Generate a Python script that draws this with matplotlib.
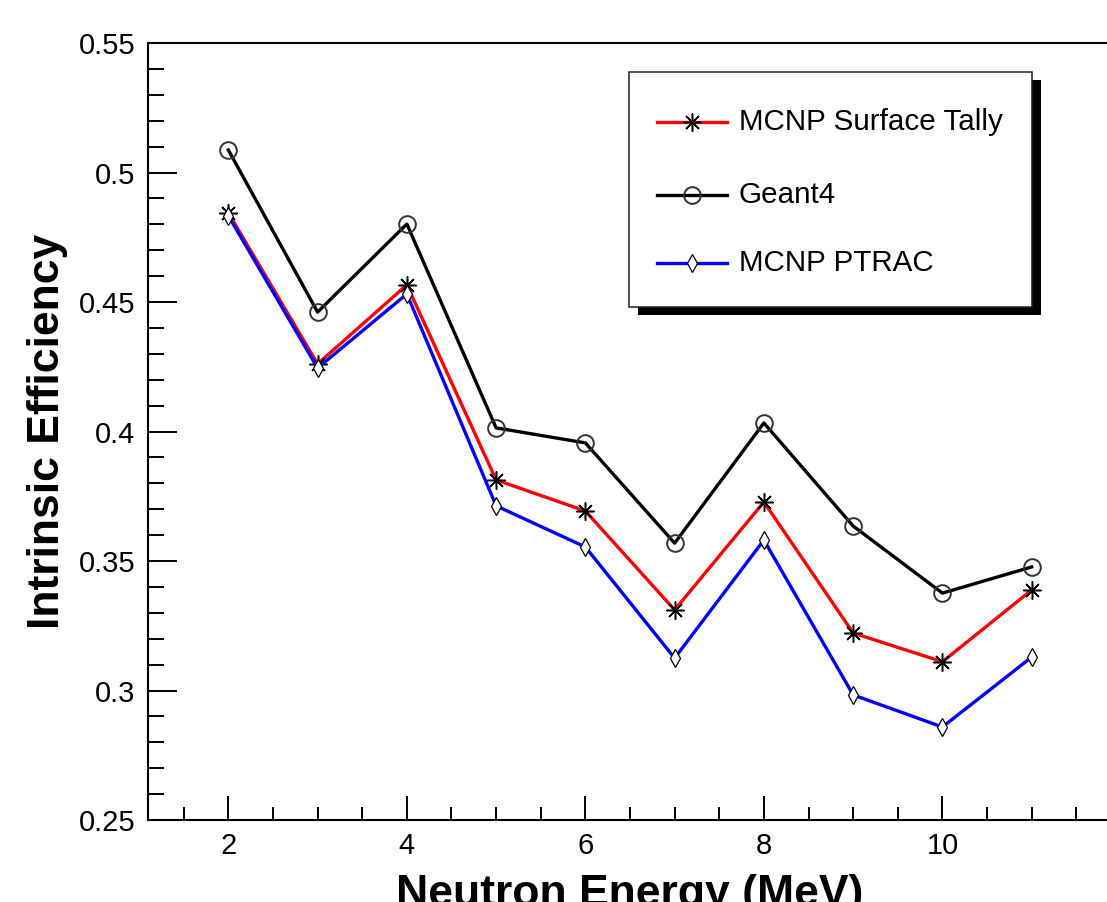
import matplotlib
matplotlib.use("Agg")
import matplotlib.pyplot as plt
from matplotlib.lines import Line2D
from matplotlib.patches import Rectangle
from matplotlib.ticker import MultipleLocator

plt.rcParams['font.family'] = ['Liberation Sans', 'DejaVu Sans']

energy = [2, 3, 4, 5, 6, 7, 8, 9, 10, 11]
mcnp_surface = [0.4844, 0.4261, 0.4566, 0.3813, 0.3693, 0.3311, 0.3728, 0.3222, 0.3111, 0.3388]
geant4 = [0.5087, 0.4461, 0.4801, 0.4014, 0.3956, 0.3569, 0.4033, 0.3635, 0.3376, 0.3477]
mcnp_ptrac = [0.4833, 0.4245, 0.4531, 0.3713, 0.3554, 0.3125, 0.3581, 0.2983, 0.2859, 0.3129]
series_labels = ["MCNP Surface Tally", "Geant4", "MCNP PTRAC"]
x_label = "Neutron Energy (MeV)"
y_label = "Intrinsic Efficiency"

W, H = 1107, 902
fig = plt.figure(figsize=(W / 100, H / 100), dpi=100)

def fx(px):
    return px / W

def fy(py):
    return 1 - py / H

ax_left, ax_right, ax_top, ax_bot = 148, 1112, 43, 820
ax = fig.add_axes([fx(ax_left), fy(ax_bot), fx(ax_right - ax_left), (ax_bot - ax_top) / H])

asterisk = (8, 2, 0)
styles = [
    dict(color='#ff0000', marker=asterisk, ms=13, mec='black', mfc='black', mew=1.1),
    dict(color='black', marker='o', ms=12, mec='#333333', mfc='none', mew=1.4),
    dict(color='#0000ff', marker='d', ms=9, mec='black', mfc='white', mew=0.9),
]
data = [mcnp_surface, geant4, mcnp_ptrac]
for i, (vals, st) in enumerate(zip(data, styles)):
    ax.plot(energy, vals, lw=2.4, zorder=3 + i, clip_on=False, **st)

ax.set_xlim(1.1, 11.9)
ax.set_ylim(0.25, 0.55)
ax.xaxis.set_minor_locator(MultipleLocator(0.5))
ax.yaxis.set_minor_locator(MultipleLocator(0.01))
ax.set_yticks([0.25, 0.3, 0.35, 0.4, 0.45, 0.5, 0.55])
ax.set_yticklabels(["0.25", "0.3", "0.35", "0.4", "0.45", "0.5", "0.55"])
ax.set_xticks([2, 4, 6, 8, 10])
ax.set_xticklabels(["2", "4", "6", "8", "10"])

ax.tick_params(axis='both', which='both', direction='in', width=1.4, labelsize=21, colors='black')
ax.tick_params(axis='y', which='major', length=21, pad=9)
ax.tick_params(axis='y', which='minor', length=11.5)
ax.tick_params(axis='x', which='major', length=17, pad=9)
ax.tick_params(axis='x', which='minor', length=9.5)
for side in ['left', 'bottom', 'top']:
    ax.spines[side].set_linewidth(1.5)
ax.spines['right'].set_visible(False)

fig.text(fx(48), fy(431), y_label, rotation=90, ha='center', va='center',
         fontsize=32, fontweight='bold')
fig.text(fx(630), fy(906), x_label, ha='center', va='baseline',
         fontsize=32, fontweight='bold')

# legend box with shadow
bx0, by0, bx1, by1 = 629, 72, 1032, 307
shadow = Rectangle((fx(bx0 + 9), fy(by1 + 8)), fx(bx1 - bx0), (by1 - by0) / H,
                   transform=fig.transFigure, facecolor='black', edgecolor='black', lw=0, zorder=10)
box = Rectangle((fx(bx0), fy(by1)), fx(bx1 - bx0), (by1 - by0) / H,
                transform=fig.transFigure, facecolor='white', edgecolor='#222222', lw=1.1, zorder=11)
fig.add_artist(shadow)
fig.add_artist(box)
rows = [122, 195, 263]
for lab, st, ry in zip(series_labels, styles, rows):
    fig.add_artist(Line2D([fx(657), fx(727)], [fy(ry), fy(ry)], transform=fig.transFigure,
                          lw=2.4, color=st['color'], zorder=12))
    mst = {k: v for k, v in st.items() if k != 'color'}
    fig.add_artist(Line2D([fx(692)], [fy(ry)], transform=fig.transFigure, ls='none',
                          zorder=13, **mst))
    fig.text(fx(739), fy(ry), lab, ha='left', va='center', fontsize=21.3, zorder=14)

fig.savefig("out.png", dpi=100)
